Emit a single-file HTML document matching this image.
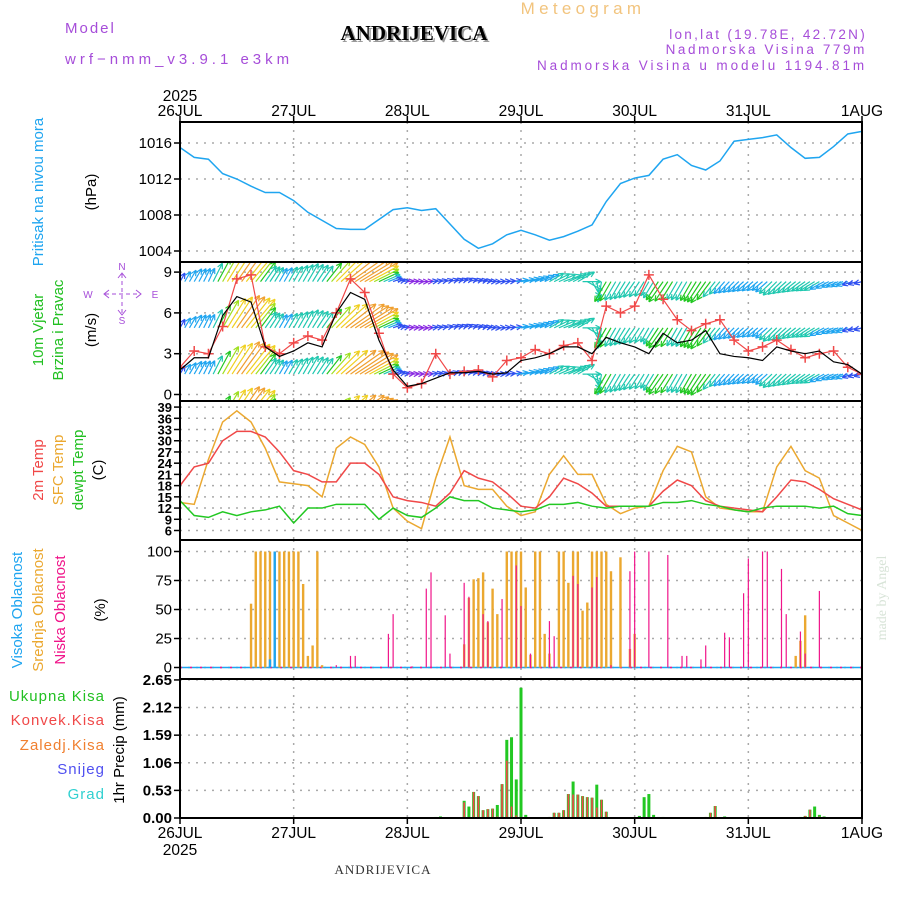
<!DOCTYPE html>
<html><head><meta charset="utf-8"><style>
body{margin:0;background:#fff}
svg{display:block;font-family:"Liberation Sans",sans-serif}
</style></head><body>
<svg id="c" width="900" height="900" viewBox="0 0 900 900">
<text x="65" y="33" fill="#a64dd9" font-size="15" letter-spacing="2">Model</text>
<text x="65" y="64" fill="#a64dd9" font-size="15" letter-spacing="4">wrf−nmm_v3.9.1 e3km</text>
<text x="416" y="42" text-anchor="middle" font-family="Liberation Serif,serif" font-weight="bold" font-size="21" fill="#999">ANDRIJEVICA</text>
<text x="414" y="40" text-anchor="middle" font-family="Liberation Serif,serif" font-weight="bold" font-size="21" fill="#000">ANDRIJEVICA</text>
<text x="583" y="14" text-anchor="middle" fill="#f2c47e" font-size="17" letter-spacing="4.3">Meteogram</text>
<text x="867" y="39" text-anchor="end" fill="#a64dd9" font-size="13.5" letter-spacing="2.3">lon,lat (19.78E, 42.72N)</text>
<text x="867" y="54" text-anchor="end" fill="#a64dd9" font-size="13.5" letter-spacing="2.6">Nadmorska Visina 779m</text>
<text x="867" y="70" text-anchor="end" fill="#a64dd9" font-size="13.5" letter-spacing="2.9">Nadmorska Visina u modelu 1194.81m</text>
<text x="383" y="874" text-anchor="middle" font-family="Liberation Serif,serif" font-size="13" fill="#333" letter-spacing="1">ANDRIJEVICA</text>
<text transform="translate(886,598) rotate(-90)" text-anchor="middle" fill="#d8e4d8" font-size="14" font-family="Liberation Serif,serif">made by Angel</text>

<text transform="translate(43,192) rotate(-90)" text-anchor="middle" fill="#1fa5f0" font-size="15">Pritisak na nivou mora</text>
<text transform="translate(96,192) rotate(-90)" text-anchor="middle" fill="#000" font-size="15">(hPa)</text>
<text transform="translate(43,330) rotate(-90)" text-anchor="middle" fill="#22c022" font-size="15">10m Vjetar</text>
<text transform="translate(63,330) rotate(-90)" text-anchor="middle" fill="#22c022" font-size="15">Brzina i Pravac</text>
<text transform="translate(96,330) rotate(-90)" text-anchor="middle" fill="#000" font-size="15">(m/s)</text>
<g>
<g fill="#a64dd9" font-size="10" text-anchor="middle"><text x="122" y="270">N</text><text x="122" y="324">S</text><text x="88" y="298">W</text><text x="155" y="298">E</text></g>
<g stroke="#a64dd9" stroke-width="1" fill="none">
<path d="M105,294H140" stroke-dasharray="4,3"/><path d="M122,274V314" stroke-dasharray="4,3"/>
<path d="M109,290L104,294L109,298M136,290L141,294L136,298M118,278L122,273L126,278M118,310L122,315L126,310"/></g></g>
<text transform="translate(43,470) rotate(-90)" text-anchor="middle" fill="#f04848" font-size="15">2m Temp</text>
<text transform="translate(63,470) rotate(-90)" text-anchor="middle" fill="#eba830" font-size="15">SFC Temp</text>
<text transform="translate(83,470) rotate(-90)" text-anchor="middle" fill="#22c022" font-size="15">dewpt Temp</text>
<text transform="translate(103,470) rotate(-90)" text-anchor="middle" fill="#000" font-size="15">(C)</text>
<text transform="translate(22,610) rotate(-90)" text-anchor="middle" fill="#1fa5f0" font-size="15">Visoka Oblacnost</text>
<text transform="translate(43,610) rotate(-90)" text-anchor="middle" fill="#eba830" font-size="15">Srednja Oblacnost</text>
<text transform="translate(65,610) rotate(-90)" text-anchor="middle" fill="#f0158a" font-size="15">Niska Oblacnost</text>
<text transform="translate(105,610) rotate(-90)" text-anchor="middle" fill="#000" font-size="15">(%)</text>
<g font-size="15" text-anchor="end" letter-spacing="1">
<text x="105" y="701" fill="#22c022">Ukupna  Kisa</text><text x="105" y="725" fill="#f04848">Konvek.Kisa</text>
<text x="105" y="750" fill="#f08030">Zaledj.Kisa</text><text x="105" y="774" fill="#5050f0">Snijeg</text>
<text x="105" y="799" fill="#30d0d0">Grad</text></g>
<text transform="translate(124,750) rotate(-90)" text-anchor="middle" fill="#000" font-size="15">1hr Precip (mm)</text>
<g id="plot"></g>
</svg>
<script>
// ---- data (3-hourly, t=0..48) ----
const pressure=[1015.5,1014.4,1014.2,1012.6,1012,1011.2,1010.5,1010.5,1009.6,1008.3,1007.4,1006.5,1006.4,1006.4,1007.5,1008.6,1008.8,1008.5,1008.7,1007.0,1005.3,1004.3,1004.8,1005.8,1006.3,1005.8,1005.2,1005.6,1006.2,1006.9,1009.5,1011.5,1012.1,1012.4,1014.2,1014.7,1013.5,1013.0,1014.0,1016.2,1016.4,1016.6,1016.9,1015.5,1014.3,1014.4,1015.6,1017.0,1017.3];
const temp2m=[18,23,24,30,32.5,32.5,31,27,22,21,19,19,24,24,21,15,14,13.5,12.5,16,22,20,19,16,12.5,12,15,20,18.5,16,12.5,12.5,12.5,12.5,16.5,19.5,18,14,12.5,12,11.5,11,15,19.5,19,17,14.5,13,11.5];
const tempSfc=[13.5,13,25,35,38,35,28,19,18.5,18,15,28,31,29,23,12,8.5,6.5,20,31,18,17,17,12.5,10,11,21,26,21,21,13,10.5,12,12.5,22,28.5,27,15,12,11.5,11,11,23,28.5,22,20,10,8,6];
const dewpt=[14,10,9.5,11,10,11,11.5,12.5,8,12,12,13,13,13,9,12,10,9.5,12,15,14,14,12,11.5,11,11.5,13,13,13.5,12.5,12,12.5,12.5,12.5,13.5,13.5,14,13,12.5,11.5,11,12,12.5,12.5,12.5,12,12.5,10.5,10];
const windSpeed=[1.8,2.7,2.7,5.8,7.2,6.8,3.5,2.8,3.2,3.8,3.5,6,7.5,7,4,1.8,0.6,0.8,1.2,1.6,1.6,1.7,1.5,1.6,2.5,2.7,3,3.5,3.5,3,4.2,3.8,3.5,3.0,4.5,3.8,4.0,4.7,3.0,2.8,2.7,2.5,3.5,3.2,3.0,3.2,2.4,2.2,1.5];
const windGust=[2,3.2,3.0,5,8.5,8.8,3.5,3.0,3.8,4.3,4,6,8.5,7.5,4.5,1.5,0.5,0.8,3,1.5,1.7,1.8,1.3,2.5,2.7,3.3,3,3.6,3.8,2.5,6.5,6.0,6.5,8.8,7,5.5,4.7,5.2,5.5,4.0,3.2,3.5,4.0,3.3,2.7,3.0,3.2,2.0,1.5];
const windDirDeg=[60,60,65,60,55,50,55,60,60,60,55,45,35,30,25,20,5,0,10,15,20,10,0,5,10,20,30,20,30,-60,-120,-120,-125,-120,-125,-120,-120,-125,-130,-135,-140,-140,-135,-140,-145,-150,-155,-160,-165];
// hourly bars [hour, value]
const midCloud=[[15,55],[16,100],[17,100],[18,100],[19,100],[20,100],[21,100],[22,100],[23,100],[24,100],[25,100],[26,72],[27,10],[28,19],[29,100],[30,2],[60,20],[61,60],[62,76],[63,77],[64,82],[65,39],[66,68],[67,46],[69,100],[70,100],[71,100],[72,100],[73,69],[74,11],[75,100],[76,100],[77,29],[78,12],[80,100],[81,100],[82,73],[83,100],[84,100],[85,49],[86,56],[87,100],[88,100],[89,100],[90,100],[91,83],[93,95],[95,16],[96,29],[130,10],[131,23],[132,45]];
const highCloud=[[19,7],[20,100]];
const lowCloud=[[33,2],[36,10],[37,10],[44,29],[45,46],[49,1],[52,68],[53,82],[56,45],[57,12],[60,73],[61,61],[64,46],[65,40],[68,59],[71,88],[72,53],[74,12],[78,40],[79,27],[83,79],[84,72],[87,69],[88,78],[91,2],[95,83],[96,100],[99,100],[103,97],[106,10],[107,10],[110,7],[111,19],[115,30],[116,26],[119,64],[120,94],[123,100],[124,100],[127,85],[128,46],[131,31],[132,12],[135,66]];
const precipTotal=[[54,0.02],[55,0.03],[60,0.33],[61,0.22],[62,0.5],[63,0.42],[64,0.15],[65,0.17],[66,0.18],[67,0.25],[68,0.65],[69,1.5],[70,1.55],[71,0.74],[72,2.5],[73,0.06],[78,0.02],[79,0.1],[80,0.1],[81,0.15],[82,0.46],[83,0.7],[84,0.45],[85,0.42],[86,0.4],[87,0.39],[88,0.64],[89,0.35],[90,0.12],[97,0.04],[98,0.4],[99,0.46],[100,0.06],[101,0.02],[102,0.02],[111,0.02],[112,0.1],[113,0.23],[115,0.03],[116,0.01],[131,0.02],[132,0.04],[133,0.16],[134,0.22],[135,0.06],[136,0.03]];
const precipConv=[[60,0.3],[61,0.02],[62,0.5],[63,0.42],[64,0.15],[65,0.17],[66,0.18],[67,0.03],[68,0.65],[69,1.1],[70,0.22],[71,0.05],[72,0.02],[73,0.02],[78,0.02],[79,0.1],[80,0.1],[81,0.15],[82,0.46],[83,0.45],[84,0.45],[85,0.42],[86,0.4],[87,0.39],[88,0.2],[89,0.35],[90,0.12],[111,0.02],[112,0.1],[113,0.23],[132,0.04],[133,0.16],[135,0.03],[136,0.02]];
const dayLabels=["26JUL","27JUL","28JUL","29JUL","30JUL","31JUL","1AUG"];
const pTicks=[1004,1008,1012,1016];
const wTicks=[0,3,6,9];
const tTicks=[6,9,12,15,18,21,24,27,30,33,36,39];
const cTicks=[0,25,50,75,100];
const rTicks=[0,0.53,1.06,1.59,2.12,2.65];

// ---- axes ----
const X0=180,X1=862;
const xh=h=>X0+h*(X1-X0)/144;
const yP=v=>143+(1016-v)*9;
const yW=v=>394.5-13.6*v;
const yT=v=>530.5-(v-6)*3.74;
const yC=v=>667.5-v*1.16;
const yR=v=>818-v*52.1;
const panels=[[122,262,yP,pTicks,v=>v],[262,401,yW,wTicks,v=>v],[401,540,yT,tTicks,v=>v],[540,679,yC,cTicks,v=>v],[679,818,yR,rTicks,v=>v.toFixed(2)]];
const NS="http://www.w3.org/2000/svg";
const g=document.getElementById('plot');
function mk(tag,at,parent){const e=document.createElementNS(NS,tag);for(const k in at)e.setAttribute(k,at[k]);(parent||g).appendChild(e);return e;}
const defs=mk('defs',{});
panels.forEach((p,i)=>{const cp=mk('clipPath',{id:'cp'+i},defs);mk('rect',{x:X0,y:p[0],width:X1-X0,height:p[1]-p[0]},cp);});

panels.forEach((p,i)=>{
  const pg=mk('g',{});
  
  
  p[3].forEach(v=>{
    const y=p[2](v);
    mk('line',{x1:X0,x2:X1,y1:y,y2:y,stroke:'#aaa','stroke-width':1.5,'stroke-dasharray':'2,6'},pg);
    mk('line',{x1:X0-6,x2:X0,y1:y,y2:y,stroke:'#000','stroke-width':1.5},pg);
    const t=mk('text',{x:X0-8,y:y+5,'text-anchor':'end','font-size':i==2?13:15,'font-weight':i==2||i==4?'bold':'normal',fill:'#000'},pg);
    t.textContent=p[4](v);
    
    
  });
  for(let d=1;d<6;d++){const x=xh(d*24);mk('line',{x1:x,x2:x,y1:p[0],y2:p[1],stroke:'#aaa','stroke-width':1.5,'stroke-dasharray':'2,6'},pg);}
});

// pressure
const pl=mk('polyline',{points:pressure.map((v,i)=>xh(i*3)+','+yP(v)).join(' '),fill:'none',stroke:'#1fa5f0','stroke-width':1.5,'clip-path':'url(#cp0)'});



// wind arrows
function spdColor(s){const c=['#8a2be2','#3050f0','#1fa5f0','#20c8b0','#22c822','#a0e020','#f0d020','#f0a030','#f05040','#f01890'];return c[Math.max(0,Math.min(9,Math.floor(s)))];}
const wg=mk('g',{'clip-path':'url(#cp1)'});


const rows=[-1.8,1.5,4.9,8.3];
for(let h=0;h<=144;h++){
  const i=Math.min(47,Math.floor(h/3)),f=(h-i*3)/3;
  const s=windSpeed[i]*(1-f)+windSpeed[i+1]*f;
  const a=(windDirDeg[i]*(1-f)+windDirDeg[i+1]*f)*Math.PI/180;
  const L=Math.min(44,Math.max(7,s*5.5));
  const col=spdColor(s);
  rows.forEach(r=>{
    const x=xh(h),y=yW(r);
    const x2=x+L*Math.cos(a),y2=y-L*Math.sin(a);
    mk('path',{d:`M${x},${y}L${x2},${y2}M${x2},${y2}L${x2-6*Math.cos(a-0.45)},${y2+6*Math.sin(a-0.45)}M${x2},${y2}L${x2-6*Math.cos(a+0.45)},${y2+6*Math.sin(a+0.45)}`,stroke:col,'stroke-width':1.2,fill:'none'},wg);
  });
}
const gl=mk('polyline',{points:windGust.map((v,i)=>xh(i*3)+','+yW(v)).join(' '),fill:'none',stroke:'#f04848','stroke-width':1.2,'clip-path':'url(#cp1)'});


windGust.forEach((v,i)=>{const x=xh(i*3),y=yW(v);const c=mk('path',{d:`M${x-5},${y}h10M${x},${y-5}v10`,stroke:'#f04848','stroke-width':1.5,'clip-path':'url(#cp1)'});

});
const sl=mk('polyline',{points:windSpeed.map((v,i)=>xh(i*3)+','+yW(v)).join(' '),fill:'none',stroke:'#000','stroke-width':1.2,'clip-path':'url(#cp1)'});



// temps
[[tempSfc,'#eba830','sfc-temp-line'],[temp2m,'#f04848','temp-2m-line'],[dewpt,'#22c822','dewpoint-line']].forEach(([d,c,n])=>{
  const l=mk('polyline',{points:d.map((v,i)=>xh(i*3)+','+yT(v)).join(' '),fill:'none',stroke:c,'stroke-width':1.5,'clip-path':'url(#cp2)'});
  
  
});

// clouds
mk('line',{x1:X0,x2:X1,y1:yC(0),y2:yC(0),stroke:'#1fa5f0','stroke-width':1.5});
mk('line',{x1:X0,x2:X1,y1:yC(0),y2:yC(0),stroke:'#f0158a','stroke-width':1.5,'stroke-dasharray':'2,8'});
midCloud.forEach(([h,v])=>{const b=mk('rect',{x:xh(h)-1.2,y:yC(v),width:2.4,height:yC(0)-yC(v),fill:'#eba830'});

});
highCloud.forEach(([h,v])=>{const b=mk('rect',{x:xh(h)-1.2,y:yC(v),width:2.4,height:yC(0)-yC(v),fill:'#1fa5f0'});

});
lowCloud.forEach(([h,v])=>{const b=mk('rect',{x:xh(h)-0.6,y:yC(v),width:1.2,height:yC(0)-yC(v),fill:'#f0158a'});

});

// precip
precipTotal.forEach(([h,v])=>{const b=mk('rect',{x:xh(h)-1.5,y:yR(v),width:3,height:yR(0)-yR(v),fill:'#22c822'});

});
precipConv.forEach(([h,v])=>{const b=mk('rect',{x:xh(h)-0.8,y:yR(v),width:1.6,height:yR(0)-yR(v),fill:'#f04848'});

});

// frames
panels.forEach(p=>{mk('rect',{x:X0,y:p[0],width:X1-X0,height:p[1]-p[0],fill:'none',stroke:'#000','stroke-width':2});});
mk('line',{x1:X0,x2:X1,y1:679,y2:679,stroke:'#000','stroke-width':1.5,'stroke-dasharray':'4,2'});

// day labels
dayLabels.forEach((d,i)=>{
  const x=xh(i*24);
  mk('line',{x1:x,x2:x,y1:116,y2:122,stroke:'#000','stroke-width':1.5});
  mk('line',{x1:x,x2:x,y1:818,y2:824,stroke:'#000','stroke-width':1.5});
  const t1=mk('text',{x:x,y:116,'text-anchor':'middle','font-size':15.5,fill:'#000'});
  t1.textContent=d;
  
  
  const t2=mk('text',{x:x,y:838,'text-anchor':'middle','font-size':15.5,fill:'#000'});
  t2.textContent=d;
  
  
});
const y1=mk('text',{x:180,y:101,'text-anchor':'middle','font-size':15.5,fill:'#000'});y1.textContent='2025';


const y2=mk('text',{x:180,y:855,'text-anchor':'middle','font-size':15.5,fill:'#000'});y2.textContent='2025';


</script>
</body></html>
